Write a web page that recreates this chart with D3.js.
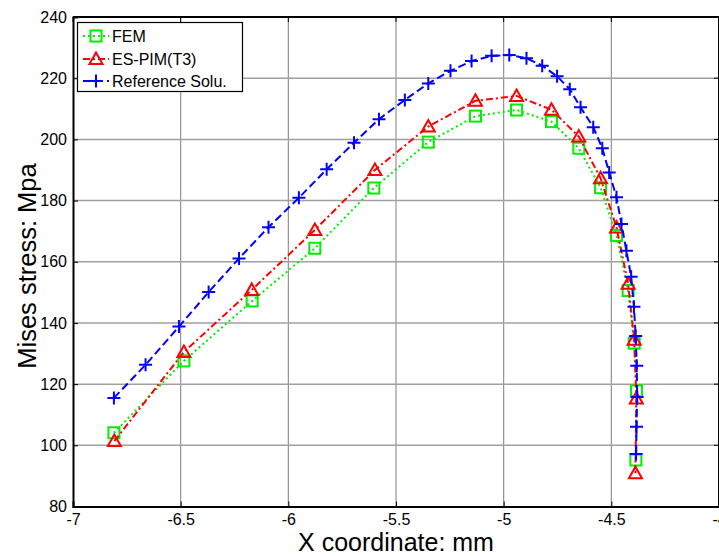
<!DOCTYPE html>
<html>
<head>
<meta charset="utf-8">
<script src="https://cdn.jsdelivr.net/npm/d3@7"></script>
<style>
  html, body { margin: 0; padding: 0; background: #fff; overflow: hidden; }
  svg { display: block; font-family: "Liberation Sans", Arial, sans-serif; }
</style>
</head>
<body>
<svg id="chart" width="719" height="556"></svg>
<script>
// FEM results
const femX = [-6.810, -6.485, -6.168, -5.877, -5.603, -5.350, -5.131, -4.940, -4.778, -4.651, -4.550, -4.476, -4.422, -4.394, -4.383, -4.386];
const femY = [104.1, 127.6, 147.2, 164.4, 184.1, 199.1, 207.6, 209.6, 205.8, 197.1, 184.2, 168.6, 150.6, 133.4, 117.8, 95.2];

// ES-PIM (T3) results
const espimX = [-6.808, -6.485, -6.170, -5.877, -5.598, -5.350, -5.131, -4.940, -4.778, -4.651, -4.550, -4.476, -4.422, -4.394, -4.384, -4.388];
const espimY = [101.4, 130.5, 150.8, 170.4, 190.0, 204.2, 212.6, 214.2, 209.7, 200.9, 187.3, 171.2, 152.8, 134.5, 115.3, 90.9];

// Reference solution
const refX = [-6.810, -6.663, -6.508, -6.370, -6.229, -6.092, -5.951, -5.822, -5.695, -5.579, -5.459, -5.350, -5.247, -5.149, -5.056, -4.974, -4.894, -4.821, -4.752, -4.693, -4.643, -4.584, -4.542, -4.510, -4.476, -4.453, -4.430, -4.408, -4.395, -4.387, -4.382, -4.380, -4.383, -4.385];
const refY = [115.5, 126.3, 138.8, 150.1, 161.1, 171.3, 180.9, 190.2, 198.9, 206.6, 212.9, 218.3, 222.4, 225.6, 227.3, 227.6, 226.5, 224.1, 220.6, 216.4, 210.5, 204.0, 197.1, 189.2, 181.1, 172.3, 163.6, 155.1, 145.3, 135.7, 126.0, 115.8, 106.1, 97.2];

// Axis ticks
const xTicks = [-7, -6.5, -6, -5.5, -5, -4.5, -4];
const yTicks = [80, 100, 120, 140, 160, 180, 200, 220, 240];

const seriesNames = ["FEM", "ES-PIM(T3)", "Reference Solu."];

const svg = d3.select("#chart");
const plotL = 73, plotR = 719, plotT = 17, plotB = 506.5;

const x = d3.scaleLinear().domain([-7, -4]).range([plotL, plotR]);
const y = d3.scaleLinear().domain([80, 240]).range([plotB, plotT]);

// grid
const grid = svg.append("g");
grid.selectAll("line.v").data(xTicks.slice(1, -1)).join("line")
  .attr("x1", d => x(d)).attr("x2", d => x(d))
  .attr("y1", plotT).attr("y2", plotB)
  .attr("stroke", "#8a8a8a").attr("stroke-width", 1.1);
grid.selectAll("line.h").data(yTicks.slice(1, -1)).join("line")
  .attr("x1", plotL).attr("x2", plotR)
  .attr("y1", d => y(d)).attr("y2", d => y(d))
  .attr("stroke", "#a0a0a0").attr("stroke-width", 1.5);

// axes
const fmt = d => String(d);
const xAxis = d3.axisBottom(x).tickValues(xTicks).tickSize(-5).tickPadding(7.5).tickFormat(fmt);
const yAxis = d3.axisLeft(y).tickValues(yTicks).tickSize(-5).tickPadding(6).tickFormat(fmt);

const gx = svg.append("g").attr("transform", `translate(0,${plotB})`).call(xAxis);
const gy = svg.append("g").attr("transform", `translate(${plotL},0)`).call(yAxis);
[gx, gy].forEach(g => {
  g.select(".domain").attr("stroke", "#000").attr("stroke-width", 2);
  g.selectAll(".tick line").attr("stroke", "#000").attr("stroke-width", 1);
  g.selectAll(".tick text").attr("fill", "#000").style("font-size", "16px")
    .style("font-family", "'Liberation Sans', Arial, sans-serif");
});
gx.selectAll(".tick text").attr("dy", "0.71em");

// top and right frame with inward ticks
svg.append("line").attr("x1", plotL).attr("x2", plotR).attr("y1", plotT).attr("y2", plotT)
  .attr("stroke", "#000").attr("stroke-width", 2);
svg.append("line").attr("x1", plotR).attr("x2", plotR).attr("y1", plotT).attr("y2", plotB)
  .attr("stroke", "#000").attr("stroke-width", 2);
svg.append("g").selectAll("line").data(xTicks).join("line")
  .attr("x1", d => x(d)).attr("x2", d => x(d)).attr("y1", plotT).attr("y2", plotT + 5)
  .attr("stroke", "#000");
svg.append("g").selectAll("line").data(yTicks).join("line")
  .attr("x1", plotR - 5).attr("x2", plotR).attr("y1", d => y(d)).attr("y2", d => y(d))
  .attr("stroke", "#000");

// axis titles
svg.append("text").attr("x", (plotL + plotR) / 2).attr("y", 551)
  .attr("text-anchor", "middle").style("font-size", "25px").attr("fill", "#000")
  .text("X coordinate: mm");
svg.append("text").attr("transform", `translate(36,266) rotate(-90)`)
  .attr("text-anchor", "middle").style("font-size", "25.5px").attr("fill", "#000")
  .text("Mises stress: Mpa");

// series definitions
const series = [
  { name: seriesNames[0], xs: femX, ys: femY, color: "#00ee00", dash: "2,3", marker: "square" },
  { name: seriesNames[1], xs: espimX, ys: espimY, color: "#ff0000", dash: "7,3,2,3", marker: "triangle" },
  { name: seriesNames[2], xs: refX, ys: refY, color: "#0000ff", dash: "8,4", marker: "plus" }
];

function drawMarker(g, type, cx, cy, color) {
  if (type === "square") {
    g.append("rect").attr("x", cx - 5.5).attr("y", cy - 5.5).attr("width", 11).attr("height", 11)
      .attr("fill", "none").attr("stroke", color).attr("stroke-width", 2);
  } else if (type === "triangle") {
    g.append("path").attr("d", `M${cx},${cy - 6.5}L${cx + 6.5},${cy + 5}L${cx - 6.5},${cy + 5}Z`)
      .attr("fill", "none").attr("stroke", color).attr("stroke-width", 2);
  } else {
    g.append("path").attr("d", `M${cx - 6.5},${cy}H${cx + 6.5}M${cx},${cy - 6.5}V${cy + 6.5}`)
      .attr("fill", "none").attr("stroke", color).attr("stroke-width", 2);
  }
}

const line = d3.line().x(d => x(d[0])).y(d => y(d[1]));

series.forEach(s => {
  const pts = s.xs.map((v, i) => [v, s.ys[i]]);
  const g = svg.append("g");
  g.append("path").datum(pts).attr("d", line)
    .attr("fill", "none").attr("stroke", s.color).attr("stroke-width", 2)
    .attr("stroke-dasharray", s.dash);
  pts.forEach(p => drawMarker(g, s.marker, x(p[0]), y(p[1]), s.color));
});

// legend
const lg = svg.append("g");
lg.append("rect").attr("x", 77.5).attr("y", 22.5).attr("width", 165).attr("height", 69)
  .attr("fill", "#fff").attr("stroke", "#000").attr("stroke-width", 1.2);
const rowY = [36, 59, 81];
series.forEach((s, i) => {
  const cy = rowY[i];
  lg.append("line").attr("x1", 83).attr("x2", 109).attr("y1", cy).attr("y2", cy)
    .attr("stroke", s.color).attr("stroke-width", 2).attr("stroke-dasharray", s.dash);
  drawMarker(lg, s.marker, 96, cy, s.color);
  lg.append("text").attr("x", 112).attr("y", cy).attr("dy", "0.36em")
    .style("font-size", "16px").attr("fill", "#000").text(s.name);
});
</script>
</body>
</html>
